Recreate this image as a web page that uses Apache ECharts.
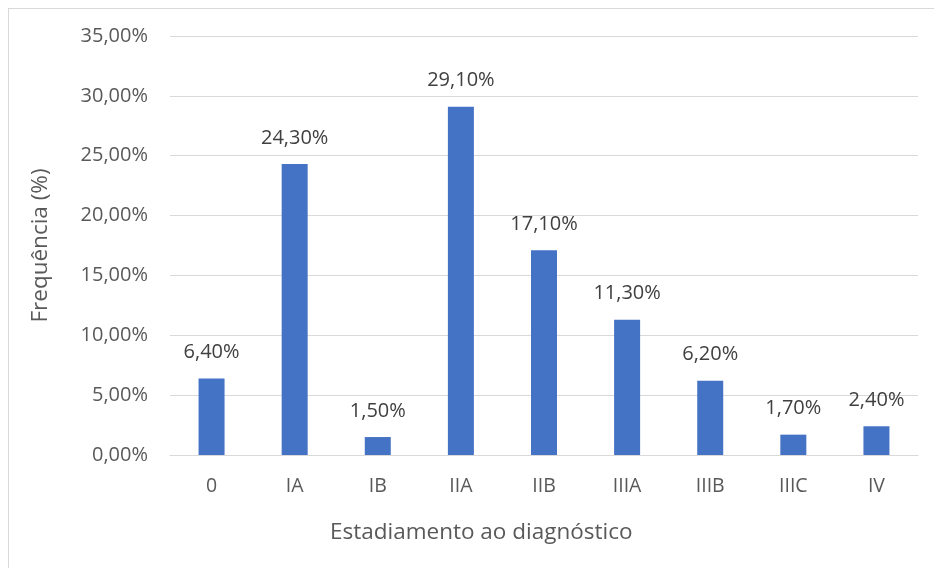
<!DOCTYPE html>
<html>
<head>
<meta charset="utf-8">
<script src="https://cdn.jsdelivr.net/npm/echarts@6/dist/echarts.min.js"></script>
<style>
  html, body { margin: 0; padding: 0; background: #fff; }
  #chart { width: 934px; height: 568px; }
</style>
</head>
<body>
<div id="chart"></div>
<script>
// Estadiamento ao diagnóstico — frequência por estádio
const categories = ['0', 'IA', 'IB', 'IIA', 'IIB', 'IIIA', 'IIIB', 'IIIC', 'IV'];
const frequencies = [6.4, 24.3, 1.5, 29.1, 17.1, 11.3, 6.2, 1.7, 2.4];
const yTicks = { min: 0, max: 35, step: 5 };
const xTitle = 'Estadiamento ao diagnóstico';
const yTitle = 'Frequência (%)';

const pct = v => v.toFixed(2).replace('.', ',') + '%';
const textColor = '#595959';
const fontFamily = '"Open Sans", "Noto Sans", sans-serif';

const chart = echarts.init(document.getElementById('chart'), null, { renderer: 'canvas' });
chart.setOption({
  animation: false,
  backgroundColor: '#ffffff',
  textStyle: { fontFamily: fontFamily, color: textColor },
  grid: { left: 170, right: 16, top: 36, bottom: 113 },
  xAxis: {
    type: 'category',
    data: categories,
    axisLine: { lineStyle: { color: '#d9d9d9', width: 1 } },
    axisTick: { show: false },
    axisLabel: { color: textColor, fontSize: 19.5, margin: 21, fontFamily: fontFamily }
  },
  yAxis: {
    type: 'value',
    min: yTicks.min,
    max: yTicks.max,
    interval: yTicks.step,
    axisLine: { show: false },
    axisTick: { show: false },
    splitLine: { lineStyle: { color: '#d9d9d9', width: 1 } },
    axisLabel: { color: textColor, fontSize: 20, margin: 22, formatter: v => pct(v), fontFamily: fontFamily },
    name: yTitle,
    nameLocation: 'middle',
    nameGap: 118,
    nameRotate: 90,
    nameTextStyle: { color: textColor, fontSize: 22.5, fontFamily: fontFamily }
  },
  series: [{
    type: 'bar',
    data: frequencies,
    barWidth: 26,
    itemStyle: { color: '#4472c4' },
    label: {
      show: true,
      position: 'top',
      distance: 16,
      color: '#404040',
      fontSize: 20,
      fontFamily: fontFamily,
      formatter: p => pct(p.value)
    }
  }],
  graphic: [
    { type: 'line', shape: { x1: 8, y1: 8.5, x2: 934, y2: 8.5 }, style: { stroke: '#d9d9d9', lineWidth: 1 } },
    { type: 'line', shape: { x1: 8.5, y1: 8, x2: 8.5, y2: 568 }, style: { stroke: '#d9d9d9', lineWidth: 1 } },
    {
      type: 'text', left: 481 - 151, top: 521,
      style: { text: xTitle, fill: textColor, fontSize: 22.5, fontFamily: fontFamily }
    }
  ]
});
</script>
</body>
</html>
